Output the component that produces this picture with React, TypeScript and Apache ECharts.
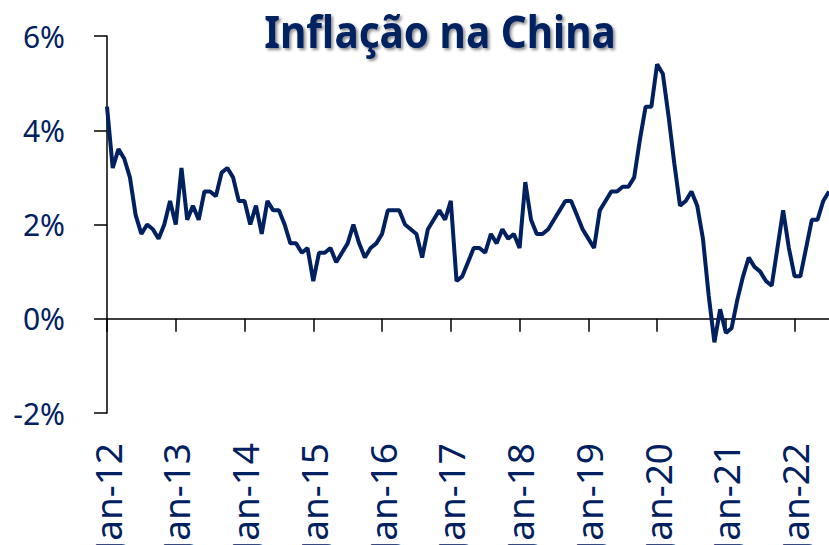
import React, { useEffect, useRef } from "react";
import * as echarts from "echarts";

const MONTHS = ["Jan", "Feb", "Mar", "Apr", "May", "Jun", "Jul", "Aug", "Sep", "Oct", "Nov", "Dec"];
const YEARS = ["12", "13", "14", "15", "16", "17", "18", "19", "20", "21", "22"];

const cpi2012 = [4.5, 3.2, 3.6, 3.4, 3.0, 2.2, 1.8, 2.0, 1.9, 1.7, 2.0, 2.5];
const cpi2013 = [2.0, 3.2, 2.1, 2.4, 2.1, 2.7, 2.7, 2.6, 3.1, 3.2, 3.0, 2.5];
const cpi2014 = [2.5, 2.0, 2.4, 1.8, 2.5, 2.3, 2.3, 2.0, 1.6, 1.6, 1.4, 1.5];
const cpi2015 = [0.8, 1.4, 1.4, 1.5, 1.2, 1.4, 1.6, 2.0, 1.6, 1.3, 1.5, 1.6];
const cpi2016 = [1.8, 2.3, 2.3, 2.3, 2.0, 1.9, 1.8, 1.3, 1.9, 2.1, 2.3, 2.1];
const cpi2017 = [2.5, 0.8, 0.9, 1.2, 1.5, 1.5, 1.4, 1.8, 1.6, 1.9, 1.7, 1.8];
const cpi2018 = [1.5, 2.9, 2.1, 1.8, 1.8, 1.9, 2.1, 2.3, 2.5, 2.5, 2.2, 1.9];
const cpi2019 = [1.7, 1.5, 2.3, 2.5, 2.7, 2.7, 2.8, 2.8, 3.0, 3.8, 4.5, 4.5];
const cpi2020 = [5.4, 5.2, 4.3, 3.3, 2.4, 2.5, 2.7, 2.4, 1.7, 0.5, -0.5, 0.2];
const cpi2021 = [-0.3, -0.2, 0.4, 0.9, 1.3, 1.1, 1.0, 0.8, 0.7, 1.5, 2.3, 1.5];
const cpi2022 = [0.9, 0.9, 1.5, 2.1, 2.1, 2.5, 2.7];

const values = [
  ...cpi2012, ...cpi2013, ...cpi2014, ...cpi2015, ...cpi2016, ...cpi2017,
  ...cpi2018, ...cpi2019, ...cpi2020, ...cpi2021, ...cpi2022,
];
const categories: string[] = [];
YEARS.forEach((y) => MONTHS.forEach((m) => categories.push(`${m}-${y}`)));
categories.length = values.length;

const NAVY = "#002060";
const FONT = "'Noto Sans', sans-serif";

export default function App() {
  const ref = useRef<HTMLDivElement>(null);
  useEffect(() => {
    document.body.style.margin = "0";
    const chart = echarts.init(ref.current!, null, { renderer: "svg" });
    chart.setOption({
      animation: false,
      backgroundColor: "#ffffff",
      grid: { left: 107, right: 0, top: 36, bottom: 132, containLabel: false, outerBoundsMode: "none" },
      graphic: [
        {
          type: "text",
          x: 440,
          y: 31,
          scaleX: 0.9,
          style: {
            text: "Inflação na China",
            fontSize: 45,
            fontWeight: "bold",
            fontFamily: FONT,
            fill: NAVY,
            textAlign: "center",
            textVerticalAlign: "middle",
            textShadowColor: "rgba(0,0,0,0.45)",
            textShadowBlur: 3,
            textShadowOffsetX: 2,
            textShadowOffsetY: 2,
          },
          z: 10,
        },
      ],
      xAxis: [
        {
          type: "category",
          data: categories,
          boundaryGap: false,
          position: "bottom",
          axisLine: { show: false, onZero: false },
          axisTick: { show: false },
          splitLine: { show: false },
          axisLabel: {
            interval: 11,
            rotate: 90,
            margin: 30,
            fontSize: 37,
            color: NAVY,
            fontFamily: FONT,
          },
        },
        {
          type: "category",
          data: categories,
          boundaryGap: false,
          position: "bottom",
          axisLine: { show: true, onZero: true, lineStyle: { color: "#000", width: 1.5 } },
          axisTick: { show: true, interval: 11, length: 13, lineStyle: { color: "#000", width: 1.5 } },
          axisLabel: { show: false },
          splitLine: { show: false },
        },
      ],
      yAxis: {
        type: "value",
        min: -2,
        max: 6,
        interval: 2,
        axisLine: { show: true, lineStyle: { color: "#000", width: 1.5 } },
        axisTick: { show: true, length: 13, lineStyle: { color: "#000", width: 1.5 } },
        splitLine: { show: false },
        axisLabel: {
          margin: 42,
          fontSize: 30,
          color: NAVY,
          fontFamily: FONT,
          formatter: (v: number) => `${v}%`,
        },
      },
      series: [
        {
          type: "line",
          xAxisIndex: 0,
          data: values,
          showSymbol: false,
          symbol: "none",
          lineStyle: { color: NAVY, width: 4 },
          z: 5,
        },
      ],
    });
    return () => chart.dispose();
  }, []);
  return <div ref={ref} style={{ width: 829, height: 545 }} />;
}
